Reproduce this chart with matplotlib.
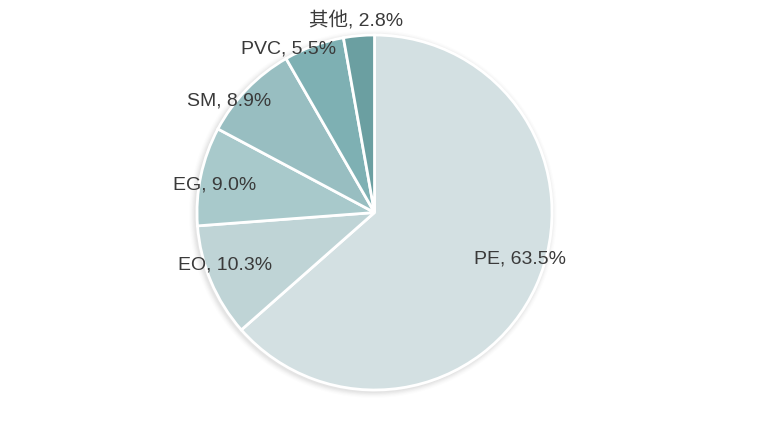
import matplotlib
matplotlib.use("Agg")
import matplotlib.pyplot as plt
import numpy as np
from matplotlib.patches import Circle

# data
categories = ["PE", "EO", "EG", "SM", "PVC", "其他"]
shares = [63.5, 10.3, 9.0, 8.9, 5.5, 2.8]

# style
colors = ["#d3e0e2", "#bfd4d6", "#a8c9cb", "#98bec1", "#7eb0b3", "#6b9fa1"]
label_dist = [0.86, 0.89, 0.914, 1.034, 1.04, 1.085]
label_nudge = [6.6, -3.5, 2.1, 6.6, 7.7, 0.4]

W, H = 775, 437
fig = plt.figure(figsize=(W / 100, H / 100), dpi=100)
ax = fig.add_axes([0, 0, 1, 1])
ax.set_xlim(0, W)
ax.set_ylim(0, H)
ax.axis("off")

cx, cy, R = 374.5, H - 212.5, 177.5

# soft shadow
for i, a in enumerate([0.05, 0.04, 0.03, 0.02, 0.015]):
    ax.add_patch(Circle((cx - 1.5, cy - 1.5), R + 1.5 + i * 1.2,
                        facecolor="#555555", edgecolor="none", alpha=a, zorder=0))

wedges, _ = ax.pie(shares, colors=colors, startangle=90, counterclock=False,
                   center=(cx, cy), radius=R, frame=True,
                   wedgeprops=dict(edgecolor="white", linewidth=2))
ax.set_xlim(0, W)
ax.set_ylim(0, H)
ax.axis("off")

total = sum(shares)
cum = 0.0
for i, (cat, v) in enumerate(zip(categories, shares)):
    mid = 90 - (cum + v / 2) / total * 360
    cum += v
    ang = np.deg2rad(mid + label_nudge[i])
    x = cx + R * label_dist[i] * np.cos(ang)
    y = cy + R * label_dist[i] * np.sin(ang)
    ax.text(x, y, f"{cat}, {v:.1f}%", ha="center", va="center", fontsize=14,
            color="#3a3a3a", family=["Liberation Sans", "Noto Sans CJK SC"])

fig.savefig("out.png", dpi=100)
